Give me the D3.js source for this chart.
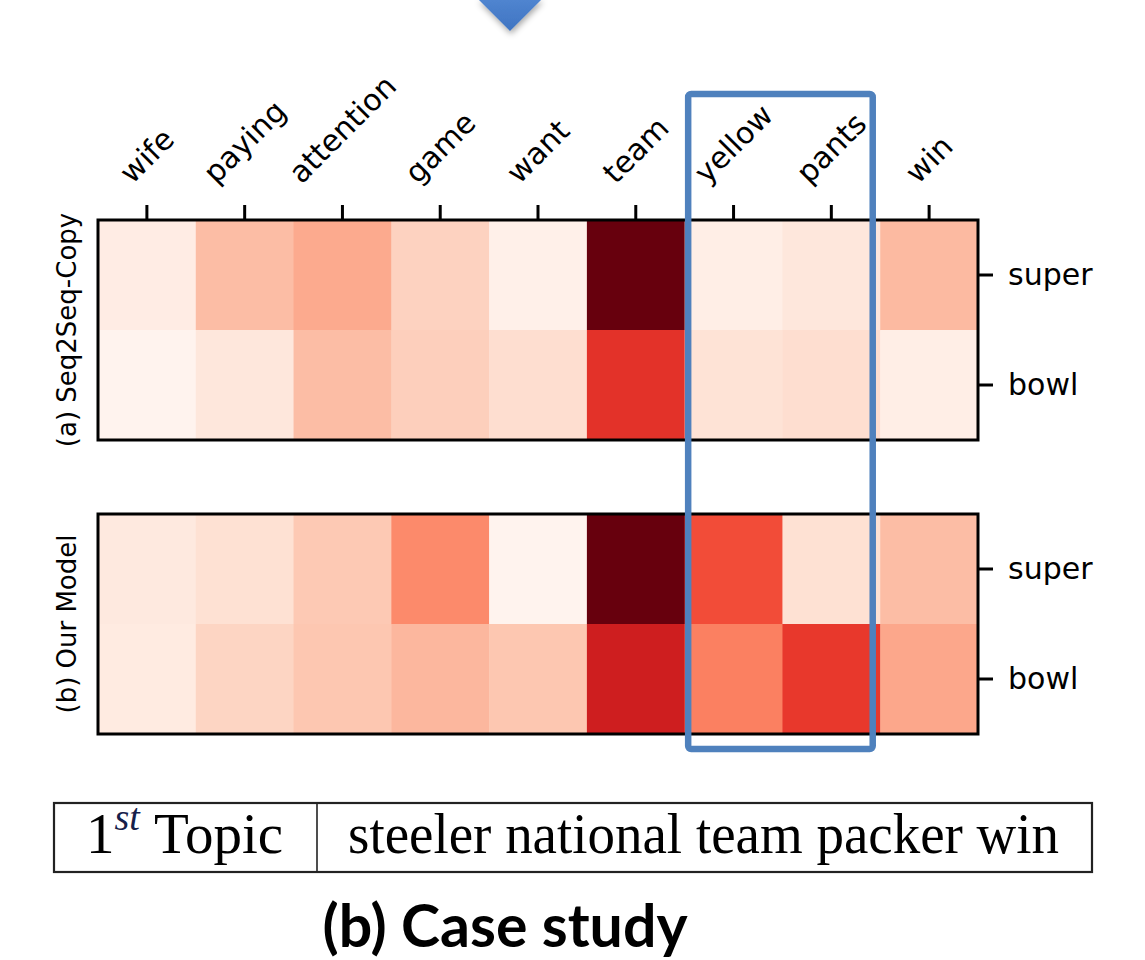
<!DOCTYPE html>
<html>
<head>
<meta charset="utf-8">
<script src="https://cdn.jsdelivr.net/npm/d3@7"></script>
<style>
  html, body { margin: 0; padding: 0; background: #fff; }
  svg { display: block; }
</style>
</head>
<body>
<script>
// Input words (columns) and the two decoding steps (rows)
const words = ["wife", "paying", "attention", "game", "want", "team", "yellow", "pants", "win"];
const steps = ["super", "bowl"];

// Attention weights, normalised to [0, 1] per panel
const seq2seqSuper = [0.05, 0.24, 0.30, 0.17, 0.03, 1.00, 0.04, 0.08, 0.25];
const seq2seqBowl  = [0.01, 0.08, 0.24, 0.18, 0.12, 0.66, 0.10, 0.12, 0.04];
const oursSuper    = [0.07, 0.11, 0.20, 0.40, 0.01, 1.00, 0.58, 0.11, 0.24];
const oursBowl     = [0.06, 0.16, 0.21, 0.26, 0.21, 0.74, 0.43, 0.64, 0.31];

const panelNames = ["(a) Seq2Seq-Copy", "(b) Our Model"];
const highlighted = ["yellow", "pants"];

const topicOrdinal = "1";
const topicSuffix = "st";
const topicHeader = "Topic";
const topicWords = "steeler national team packer win";
const caption = "(b) Case study";

const W = 1145, H = 960;
const svg = d3.select("body").append("svg")
  .attr("width", W).attr("height", H)
  .style("font-family", "'DejaVu Sans', sans-serif");

const defs = svg.append("defs");
const shadow = defs.append("filter").attr("id", "arrowShadow")
  .attr("x", "-50%").attr("y", "-50%").attr("width", "200%").attr("height", "200%");
shadow.append("feDropShadow").attr("dx", 1).attr("dy", 3).attr("stdDeviation", 3)
  .attr("flood-color", "#000").attr("flood-opacity", 0.35);
const grad = defs.append("linearGradient").attr("id", "arrowFill")
  .attr("x1", 0).attr("y1", 0).attr("x2", 0).attr("y2", 1);
grad.append("stop").attr("offset", "0%").attr("stop-color", "#5a8fd8");
grad.append("stop").attr("offset", "100%").attr("stop-color", "#3f74c2");

// Down arrow pointing at the heatmaps
svg.append("path")
  .attr("d", "M493,-20 L527,-20 L527,-1 L542,-1 L510,31 L478,-1 L493,-1 Z")
  .attr("fill", "url(#arrowFill)")
  .attr("filter", "url(#arrowShadow)");

const x = d3.scaleBand().domain(words).range([98, 978]);
const color = d3.scaleSequential(d3.interpolateReds).domain([0, 1]);

const panels = [
  { name: panelNames[0], rows: [seq2seqSuper, seq2seqBowl], range: [220, 440], topAxis: true },
  { name: panelNames[1], rows: [oursSuper, oursBowl], range: [514, 734], topAxis: false }
];

panels.forEach(p => {
  const y = d3.scaleBand().domain(steps).range(p.range);
  const g = svg.append("g");
  const cells = [];
  steps.forEach((s, i) => words.forEach((w, j) => cells.push({ s, w, v: p.rows[i][j] })));

  g.selectAll("rect.cell").data(cells).join("rect")
    .attr("class", "cell")
    .attr("x", d => x(d.w))
    .attr("y", d => y(d.s))
    .attr("width", x.bandwidth() + 0.5)
    .attr("height", y.bandwidth() + 0.5)
    .attr("fill", d => color(d.v));

  // frame
  g.append("rect")
    .attr("x", x.range()[0]).attr("y", p.range[0])
    .attr("width", x.range()[1] - x.range()[0])
    .attr("height", p.range[1] - p.range[0])
    .attr("fill", "none").attr("stroke", "#000").attr("stroke-width", 3);

  // right axis with step labels
  const ra = g.append("g")
    .attr("transform", `translate(${x.range()[1]},0)`)
    .call(d3.axisRight(y).tickSize(15).tickPadding(15));
  ra.select(".domain").remove();
  ra.selectAll(".tick line").attr("stroke", "#000").attr("stroke-width", 3);
  ra.selectAll(".tick text")
    .attr("fill", "#000")
    .style("font-family", "'DejaVu Sans', sans-serif")
    .style("font-size", "30px");

  // panel name, vertical on the left
  g.append("text")
    .attr("transform", `translate(76,${(p.range[0] + p.range[1]) / 2}) rotate(-90)`)
    .attr("text-anchor", "middle")
    .attr("fill", "#000")
    .style("font-size", "26px")
    .text(p.name);

  if (p.topAxis) {
    const ta = g.append("g")
      .attr("transform", `translate(0,${p.range[0]})`)
      .call(d3.axisTop(x).tickSize(15));
    ta.select(".domain").remove();
    ta.selectAll(".tick line").attr("stroke", "#000").attr("stroke-width", 3);
    ta.selectAll(".tick text").remove();

    // rotated word labels, centred over each tick
    const fs = 30, boxBottom = 190;
    const labels = g.selectAll("text.word").data(words).join("text")
      .attr("class", "word")
      .attr("text-anchor", "middle")
      .attr("dy", "0.345em")
      .attr("fill", "#000")
      .style("font-size", fs + "px")
      .text(d => d);
    labels.each(function (d) {
      const L = this.getComputedTextLength();
      const h = (L + 1.17 * fs) * Math.SQRT1_2;
      const cx = x(d) + x.bandwidth() / 2;
      const cy = boxBottom - h / 2;
      d3.select(this).attr("transform", `translate(${cx},${cy}) rotate(-45)`);
    });
  }
});

// highlight box around the two words of interest
const hx0 = x(highlighted[0]) + 3.5;
const hx1 = x(highlighted[1]) + x.bandwidth() - 7.5;
svg.append("rect")
  .attr("x", hx0).attr("y", 94)
  .attr("width", hx1 - hx0).attr("height", 749 - 94)
  .attr("rx", 3).attr("ry", 3)
  .attr("fill", "none")
  .attr("stroke", "#4f81bd")
  .attr("stroke-width", 6.5);

// topic table
const tb = svg.append("g").style("font-family", "'Liberation Serif', 'Times New Roman', serif");
tb.append("rect")
  .attr("x", 54).attr("y", 803).attr("width", 1092 - 54).attr("height", 872 - 803)
  .attr("fill", "none").attr("stroke", "#222").attr("stroke-width", 2.2);
tb.append("line")
  .attr("x1", 317).attr("x2", 317).attr("y1", 803).attr("y2", 872)
  .attr("stroke", "#222").attr("stroke-width", 1.6);

const head = tb.append("text")
  .attr("x", 86).attr("y", 853)
  .attr("fill", "#000")
  .style("font-size", "57px");
head.append("tspan").text(topicOrdinal);
head.append("tspan")
  .attr("dy", -23)
  .style("font-size", "38px").style("font-style", "italic")
  .attr("fill", "#16204a")
  .text(topicSuffix);
head.append("tspan")
  .attr("dy", 23)
  .text("\u00a0" + topicHeader);

tb.append("text")
  .attr("x", 348).attr("y", 853)
  .attr("fill", "#000")
  .attr("textLength", 711)
  .attr("lengthAdjust", "spacingAndGlyphs")
  .style("font-size", "57px")
  .text(topicWords);

// caption
svg.append("text")
  .attr("x", 505).attr("y", 947)
  .attr("text-anchor", "middle")
  .attr("fill", "#000")
  .style("font-family", "Lato, 'Open Sans', sans-serif")
  .style("font-weight", 700)
  .style("font-size", "59px")
  .text(caption);
</script>
</body>
</html>
